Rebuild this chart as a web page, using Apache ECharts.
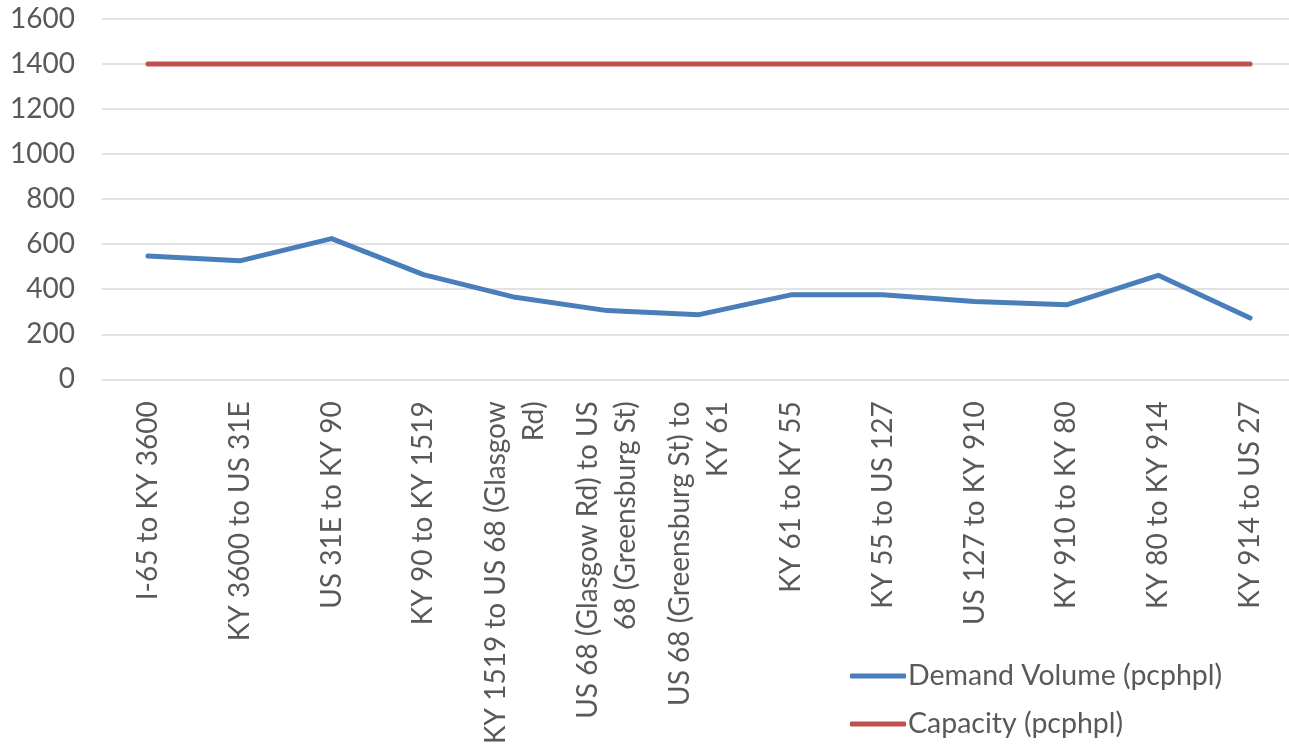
<!DOCTYPE html>
<html>
<head>
<meta charset="utf-8">
<script src="https://cdn.jsdelivr.net/npm/echarts@6/dist/echarts.min.js"></script>
<style>
  html, body { margin: 0; padding: 0; background: #fff; overflow: hidden; }
  #main { width: 1300px; height: 747px; }
</style>
</head>
<body>
<div id="main"></div>
<script>
// road segments (x axis)
var segments = [
  'I-65 to KY 3600',
  'KY 3600 to US 31E',
  'US 31E to KY 90',
  'KY 90 to KY 1519',
  'KY 1519 to US 68 (Glasgow\nRd)',
  'US 68 (Glasgow Rd) to US\n68 (Greensburg St)',
  'US 68 (Greensburg St) to\nKY 61',
  'KY 61 to KY 55',
  'KY 55 to US 127',
  'US 127 to KY 910',
  'KY 910 to KY 80',
  'KY 80 to KY 914',
  'KY 914 to US 27'
];
var demandVolume = [548, 526, 625, 465, 364, 305, 287, 375, 375, 346, 331, 462, 272];
var capacity = [1400, 1400, 1400, 1400, 1400, 1400, 1400, 1400, 1400, 1400, 1400, 1400, 1400];

var textColor = '#595959';
var fontName = 'Lato, "Open Sans", sans-serif';

// the plot runs a little past the right edge of the window, so the chart box is wider
var chart = echarts.init(document.getElementById('main'));
var option = {
  animation: false,
  textStyle: { fontFamily: fontName },
  grid: { left: 102, right: 4, top: 19, bottom: 366.5 },
  legend: {
    orient: 'vertical',
    left: 845,
    top: 656,
    itemWidth: 56,
    itemHeight: 5,
    itemGap: 18,
    icon: 'roundRect',
    textStyle: { color: textColor, fontSize: 28.5, lineHeight: 30, fontFamily: fontName, padding: [0, 0, 0, -3] },
    data: ['Demand Volume (pcphpl)', 'Capacity (pcphpl)']
  },
  xAxis: {
    type: 'category',
    data: segments,
    boundaryGap: true,
    axisLine: { show: false },
    axisTick: { show: false },
    axisLabel: {
      rotate: 90,
      interval: 0,
      margin: 22,
      color: textColor,
      fontSize: 28,
      lineHeight: 38,
      fontFamily: fontName
    }
  },
  yAxis: {
    type: 'value',
    min: 0,
    max: 1600,
    interval: 200,
    axisLine: { show: false },
    axisTick: { show: false },
    axisLabel: {
      color: textColor,
      fontSize: 28,
      margin: 27,
      fontFamily: fontName,
      formatter: function (v) { return String(v); }
    },
    splitLine: { lineStyle: { color: '#d9d9d9', width: 1.5 } }
  },
  series: [
    {
      name: 'Demand Volume (pcphpl)',
      type: 'line',
      data: demandVolume,
      symbol: 'none',
      color: '#4a7ebb',
      lineStyle: { width: 5, cap: 'round', join: 'round' }
    },
    {
      name: 'Capacity (pcphpl)',
      type: 'line',
      data: capacity,
      symbol: 'none',
      color: '#c0504d',
      lineStyle: { width: 5, cap: 'round', join: 'round' }
    }
  ]
};
chart.setOption(option);
</script>
</body>
</html>
